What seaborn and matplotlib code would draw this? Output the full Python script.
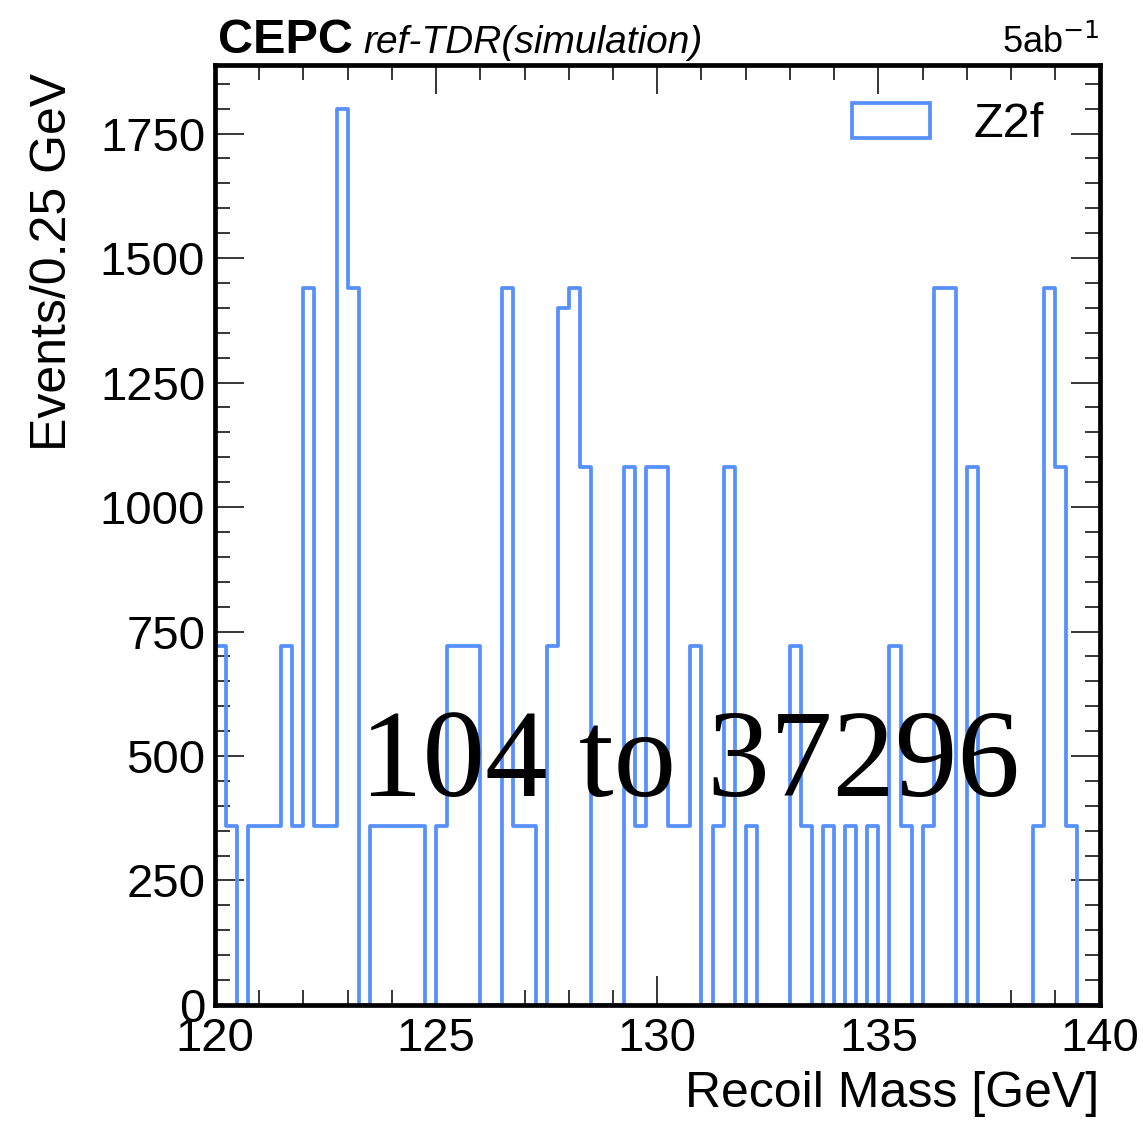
import numpy as np
import matplotlib
matplotlib.use('Agg')
import matplotlib.pyplot as plt
from matplotlib.patches import Patch
from matplotlib.ticker import MultipleLocator
import seaborn as sns

# Recoil mass window, 0.25 GeV bins
mass_lo = 120.0
mass_hi = 140.0
bin_width = 0.25

# Z2f events per bin left to right
z2f_counts = [
    720, 360, 0, 360, 360, 360, 720, 360, 1440, 360,
    360, 1800, 1440, 0, 360, 360, 360, 360, 360, 0,
    360, 720, 720, 720, 0, 0, 1440, 360, 360, 0,
    720, 1400, 1440, 1080, 0, 0, 0, 1080, 360, 1080,
    1080, 360, 360, 720, 0, 360, 1080, 0, 360, 0,
    0, 0, 720, 360, 0, 360, 0, 360, 0, 360,
    0, 720, 360, 0, 360, 1440, 1440, 0, 1080, 0,
    0, 0, 0, 0, 360, 1440, 1080, 360, 0, 0,
]
x_ticks = [120, 125, 130, 135, 140]
y_ticks = [0, 250, 500, 750, 1000, 1250, 1500, 1750]

line_color = '#5790fc'

sns.set_style('ticks')
plt.rcParams['font.family'] = ['Liberation Sans', 'DejaVu Sans']
plt.rcParams['text.color'] = 'black'
plt.rcParams['axes.labelcolor'] = 'black'
plt.rcParams['xtick.color'] = 'black'
plt.rcParams['ytick.color'] = 'black'

fig = plt.figure(figsize=(11.43, 11.34), dpi=100)
ax = fig.add_axes([0.188, 0.1138, 0.774, 0.829])

n_bins = len(z2f_counts)
centers = mass_lo + bin_width * (np.arange(n_bins) + 0.5)
sns.histplot(x=centers, weights=z2f_counts, bins=n_bins, binrange=(mass_lo, mass_hi),
             element='step', fill=False, color=line_color, linewidth=2.7, ax=ax)

ax.set_xlim(mass_lo, mass_hi)
ax.set_ylim(0, 1888)
ax.set_xticks(x_ticks)
ax.set_yticks(y_ticks)
ax.xaxis.set_minor_locator(MultipleLocator(1))
ax.yaxis.set_minor_locator(MultipleLocator(50))
ax.tick_params(which='both', direction='in', top=True, right=True, width=1.1,
               colors='black', labelcolor='black')
ax.tick_params(which='major', length=21, labelsize=34)
ax.tick_params(which='minor', length=11)
ax.tick_params(axis='x', which='major', pad=9)
ax.tick_params(axis='y', which='major', pad=7)
for s in ax.spines.values():
    s.set_linewidth(3.4)
    s.set_color('black')
    s.set_zorder(5)

ax.set_xlabel('Recoil Mass [GeV]', fontsize=36, loc='right', color='black')
ax.set_ylabel('Events/0.25 GeV', fontsize=36, loc='top', color='black')
ax.xaxis.set_label_coords(1.0, -0.07)
ax.yaxis.set_label_coords(-0.157, 0.992)

# experiment header
ax.text(0.003, 1.013, 'CEPC', transform=ax.transAxes, fontsize=35,
        fontweight='bold', ha='left', va='baseline')
ax.text(0.168, 1.013, 'ref-TDR(simulation)', transform=ax.transAxes, fontsize=28,
        fontstyle='italic', ha='left', va='baseline')
ax.text(1.0, 1.013, r'5ab$^{-1}$', transform=ax.transAxes, fontsize=26,
        ha='right', va='baseline')

handle = Patch(facecolor='none', edgecolor=line_color, linewidth=2.7, label='Z2f')
ax.legend(handles=[handle], loc='upper left', bbox_to_anchor=(0.72, 0.96),
          frameon=False, fontsize=35, handlelength=1.6, handleheight=0.72,
          handletextpad=0.9, borderpad=0, borderaxespad=0)

ax.text(0.537, 0.222, '104 to 37296', transform=ax.transAxes, fontsize=90,
        family=['Liberation Serif', 'DejaVu Serif'], color='black',
        ha='center', va='baseline', zorder=6)

fig.savefig('out.png', dpi=100)
